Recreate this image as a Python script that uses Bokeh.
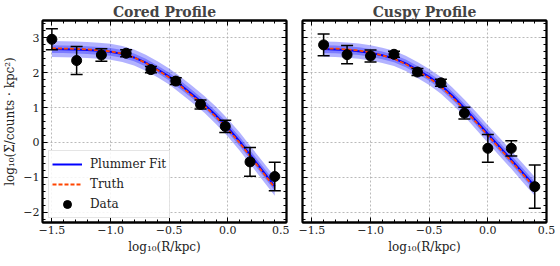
import numpy as np
from bokeh.plotting import figure
from bokeh.models import (FixedTicker, Legend, LegendItem, LinearAxis, Range1d,
                          ColumnDataSource)
from bokeh.layouts import row
from bokeh.embed import file_html
from bokeh.resources import INLINE

FONT = "DejaVu Serif"

# ---- tick definitions ----
x_ticks = [-1.5, -1.0, -0.5, 0.0, 0.5]
x_tick_labels = ["\u22121.5", "\u22121.0", "\u22120.5", "0.0", "0.5"]
x_minor = [round(-1.6 + 0.1 * i, 2) for i in range(0, 22)]
y_ticks = [-2, -1, 0, 1, 2, 3]
y_tick_labels = ["\u22122", "\u22121", "0", "1", "2", "3"]
y_minor = [round(-2.4 + 0.2 * i, 2) for i in range(0, 31)]

titles = ["Cored Profile", "Cuspy Profile"]

# ---- Cored profile data ----
cored_x = [-1.5, -1.289, -1.078, -0.867, -0.656, -0.444, -0.233, -0.022, 0.189, 0.4]
cored_y = [2.96, 2.35, 2.51, 2.56, 2.09, 1.76, 1.09, 0.46, -0.56, -0.98]
cored_err = [0.30, 0.40, 0.18, 0.10, 0.09, 0.095, 0.13, 0.175, 0.41, 0.41]

cored_curve_x = [-1.5, -1.4, -1.3, -1.2, -1.1, -1.0, -0.9, -0.8, -0.7, -0.6,
                 -0.5, -0.4, -0.3, -0.2, -0.1, 0.0, 0.1, 0.2, 0.3, 0.4]
cored_fit = [2.68, 2.675, 2.665, 2.65, 2.63, 2.60, 2.54, 2.44, 2.29, 2.10,
             1.89, 1.64, 1.37, 1.09, 0.77, 0.42, 0.03, -0.40, -0.83, -1.26]
cored_truth = [2.70, 2.695, 2.685, 2.67, 2.645, 2.61, 2.55, 2.44, 2.28, 2.08,
               1.86, 1.61, 1.33, 1.05, 0.73, 0.38, -0.01, -0.44, -0.87, -1.30]
cored_band1 = [0.11, 0.11, 0.11, 0.11, 0.11, 0.11, 0.11, 0.11, 0.11, 0.11,
               0.11, 0.12, 0.12, 0.12, 0.12, 0.13, 0.13, 0.13, 0.13, 0.13]
cored_band2 = [0.23, 0.23, 0.23, 0.23, 0.23, 0.23, 0.23, 0.23, 0.23, 0.23,
               0.23, 0.24, 0.24, 0.24, 0.25, 0.25, 0.26, 0.26, 0.27, 0.27]

# ---- Cuspy profile data ----
cuspy_x = [-1.4, -1.2, -1.0, -0.8, -0.6, -0.4, -0.2, 0.0, 0.2, 0.4]
cuspy_y = [2.80, 2.52, 2.48, 2.53, 2.02, 1.71, 0.84, -0.17, -0.17, -1.27]
cuspy_err = [0.31, 0.26, 0.17, 0.085, 0.10, 0.10, 0.17, 0.40, 0.22, 0.62]

cuspy_curve_x = [-1.4, -1.3, -1.2, -1.1, -1.0, -0.9, -0.8, -0.7, -0.6, -0.5,
                 -0.4, -0.3, -0.2, -0.1, 0.0, 0.1, 0.2, 0.3, 0.4]
cuspy_fit = [2.68, 2.67, 2.65, 2.62, 2.57, 2.50, 2.41, 2.27, 2.08, 1.88,
             1.64, 1.33, 0.99, 0.62, 0.24, -0.13, -0.50, -0.88, -1.26]
cuspy_truth = [2.70, 2.69, 2.67, 2.64, 2.58, 2.50, 2.40, 2.25, 2.05, 1.85,
               1.60, 1.29, 0.95, 0.58, 0.20, -0.17, -0.54, -0.92, -1.30]
cuspy_band1 = [0.11, 0.11, 0.11, 0.11, 0.11, 0.11, 0.11, 0.11, 0.11, 0.11,
               0.12, 0.12, 0.12, 0.12, 0.13, 0.13, 0.13, 0.13, 0.13]
cuspy_band2 = [0.22, 0.22, 0.22, 0.22, 0.22, 0.22, 0.22, 0.22, 0.23, 0.23,
               0.24, 0.24, 0.24, 0.25, 0.25, 0.26, 0.26, 0.27, 0.27]


def style_axis(ax, show_labels):
    ax.major_tick_in = 5
    ax.major_tick_out = 0
    ax.minor_tick_in = 3
    ax.minor_tick_out = 0
    ax.major_tick_line_width = 1
    ax.minor_tick_line_width = 1
    ax.axis_line_width = 1.8
    ax.axis_line_color = "black"
    ax.major_label_text_font = FONT
    ax.major_label_text_font_size = "11px"
    ax.major_label_text_color = "#222222"
    ax.major_label_standoff = 3 if show_labels else 0
    ax.axis_label_text_font = FONT
    ax.axis_label_text_font_size = "12px"
    ax.axis_label_text_font_style = "normal"
    ax.axis_label_text_color = "#222222"
    ax.axis_label_standoff = 3


def make_panel(title, px, py, perr, cx, cfit, ctruth, b1, b2,
               show_ylabels, bl, br, with_legend):
    p = figure(frame_width=244, frame_height=202,
               x_range=Range1d(-1.58, 0.5), y_range=Range1d(-2.3, 3.5),
               output_backend="svg", toolbar_location=None,
               min_border_left=bl, min_border_right=br,
               min_border_top=2, min_border_bottom=2,
               background_fill_color="white", border_fill_color="white")
    p.outline_line_color = "black"
    p.outline_line_width = 1.8

    p.title.text = title
    p.title.text_font = FONT
    p.title.text_font_size = "14px"
    p.title.text_font_style = "bold"
    p.title.align = "center"
    p.title.offset = 0
    p.title.standoff = 2

    # grid
    p.xgrid.ticker = FixedTicker(ticks=x_ticks)
    p.ygrid.ticker = FixedTicker(ticks=y_ticks)
    for g in (p.xgrid, p.ygrid):
        g.grid_line_color = "#a8a8a8"
        g.grid_line_dash = "2 2"
        g.grid_line_width = 0.8

    # axes
    xa = p.xaxis[0]
    ya = p.yaxis[0]
    xa.ticker = FixedTicker(ticks=x_ticks, minor_ticks=x_minor)
    ya.ticker = FixedTicker(ticks=y_ticks, minor_ticks=y_minor)
    xa.major_label_overrides = {t: l for t, l in zip(x_ticks, x_tick_labels)}
    if show_ylabels:
        ya.major_label_overrides = {t: l for t, l in zip(y_ticks, y_tick_labels)}
    else:
        ya.major_label_overrides = {t: "" for t in y_ticks}
    style_axis(xa, True)
    style_axis(ya, show_ylabels)
    xa.axis_label = "log\u2081\u2080(R/kpc)"
    if show_ylabels:
        ya.axis_label = "log\u2081\u2080(\u03a3/counts \u00b7 kpc\u00b2)"

    top = LinearAxis(ticker=FixedTicker(ticks=x_ticks, minor_ticks=x_minor),
                     major_label_overrides={t: "" for t in x_ticks})
    right = LinearAxis(ticker=FixedTicker(ticks=y_ticks, minor_ticks=y_minor),
                       major_label_overrides={t: "" for t in y_ticks})
    style_axis(top, False)
    style_axis(right, False)
    p.add_layout(top, "above")
    p.add_layout(right, "right")

    # bands
    cxa = np.array(cx)
    cf = np.array(cfit)
    p.varea(x=cxa, y1=cf - np.array(b2), y2=cf + np.array(b2),
            fill_color="blue", fill_alpha=0.3)
    p.varea(x=cxa, y1=cf - np.array(b1), y2=cf + np.array(b1),
            fill_color="blue", fill_alpha=0.3)
    fit_r = p.line(cxa, cf, line_color="blue", line_width=2)
    truth_r = p.line(cxa, ctruth, line_color="#ff4500", line_width=1.8,
                     line_dash="4 2")

    # data with error bars
    pyv = np.array(py)
    pe = np.array(perr)
    src = ColumnDataSource(dict(x=px, y=py, lo=pyv - pe, hi=pyv + pe))
    p.segment(x0="x", y0="lo", x1="x", y1="hi", source=src,
              line_color="black", line_width=1.5)
    p.scatter(x="x", y="lo", source=src, marker="dash", size=12,
              line_color="black", line_width=1.5)
    p.scatter(x="x", y="hi", source=src, marker="dash", size=12,
              line_color="black", line_width=1.5)
    pts = p.scatter(x="x", y="y", source=src, size=10, color="black")

    if with_legend:
        leg = Legend(items=[LegendItem(label="Plummer Fit", renderers=[fit_r]),
                            LegendItem(label="Truth", renderers=[truth_r]),
                            LegendItem(label="Data", renderers=[pts])],
                     location=(6, 4))
        leg.label_text_font = FONT
        leg.label_text_font_size = "12px"
        leg.label_text_color = "#222222"
        leg.glyph_width = 30
        leg.glyph_height = 20
        leg.label_height = 20
        leg.spacing = 0
        leg.padding = 3
        leg.margin = 0
        leg.label_standoff = 8
        leg.border_line_color = "#cccccc"
        leg.border_line_width = 1
        leg.background_fill_alpha = 0.85
        p.add_layout(leg)
    return p


p1 = make_panel(titles[0], cored_x, cored_y, cored_err, cored_curve_x,
                cored_fit, cored_truth, cored_band1, cored_band2,
                True, 30, 3, True)
p2 = make_panel(titles[1], cuspy_x, cuspy_y, cuspy_err, cuspy_curve_x,
                cuspy_fit, cuspy_truth, cuspy_band1, cuspy_band2,
                False, 13, 9, False)

layout = row(p1, p2)
open("out.html", "w").write(file_html(layout, INLINE))
